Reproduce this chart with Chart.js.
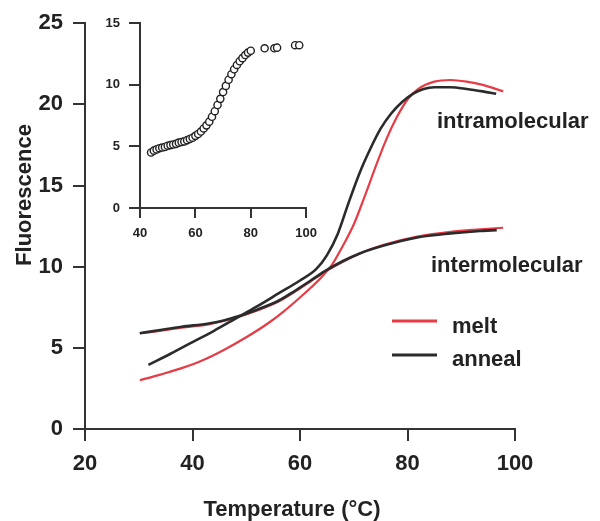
<!DOCTYPE html>
<html>
<head>
<meta charset="utf-8">
<script src="https://cdn.jsdelivr.net/npm/chart.js@4.4.0/dist/chart.umd.min.js"></script>
<style>
  body { margin: 0; background: #fff; }
  #wrap { position: relative; width: 600px; height: 521px; }
  #main { position: absolute; left: 0; top: 0; }
  #inset { position: absolute; left: 90px; top: 0; }
</style>
</head>
<body>
<div id="wrap">
  <canvas id="main" width="600" height="521"></canvas>
  <canvas id="inset" width="235" height="250"></canvas>
</div>
<script>
'use strict';

// main plot: temperature (C) vs fluorescence
var intraMeltT = [30.2, 34, 38, 42, 46, 50, 54, 57, 60, 62, 64, 66, 68, 70, 72, 74, 76, 78, 80, 82, 85, 88, 91, 94, 97.8];
var intraMeltF = [3.0, 3.35, 3.75, 4.25, 4.9, 5.65, 6.5, 7.25, 8.1, 8.7, 9.35, 10.15, 11.3, 12.6, 14.3, 16.1, 17.8, 19.2, 20.3, 20.95, 21.4, 21.5, 21.4, 21.2, 20.8];

var intraAnnealT = [31.8, 36, 40, 44, 48, 52, 56, 60, 63, 65, 67, 69, 71, 73, 75, 77, 79, 81, 83, 85, 88, 91, 94, 96.5];
var intraAnnealF = [3.95, 4.65, 5.35, 6.05, 6.8, 7.55, 8.35, 9.15, 9.85, 10.7, 12.0, 13.9, 15.7, 17.2, 18.5, 19.45, 20.15, 20.65, 20.95, 21.05, 21.05, 20.95, 20.8, 20.65];

var interMeltT = [30.2, 34, 38, 43, 48, 52, 56, 59, 62, 65, 68, 71, 75.6, 81.8, 88, 93.5, 97.8];
var interMeltF = [5.9, 6.05, 6.25, 6.45, 6.85, 7.3, 7.85, 8.45, 9.1, 9.75, 10.3, 10.8, 11.35, 11.85, 12.15, 12.3, 12.4];

var interAnnealT = [30.2, 34, 38, 43, 46, 48.5, 52, 56, 59, 62, 65, 68, 71, 75.6, 81.8, 88, 93.5, 96.6];
var interAnnealF = [5.9, 6.1, 6.3, 6.5, 6.7, 6.95, 7.35, 7.9, 8.5, 9.15, 9.8, 10.35, 10.8, 11.3, 11.8, 12.05, 12.2, 12.25];

var mainXTicks = [20, 40, 60, 80, 100];
var mainYTicks = [0, 5, 10, 15, 20, 25];

// inset: open circles
var insetT = [44, 45, 46, 47, 48, 49, 50, 51, 52, 53, 54, 55, 56, 57, 58, 59, 60, 61, 62, 63, 64, 65, 66, 67, 68, 69, 70, 71, 72, 73, 74, 75, 76, 77, 78, 79, 80, 85, 88.5, 89.5, 96, 97.5];
var insetF = [4.5, 4.65, 4.75, 4.85, 4.9, 4.95, 5.05, 5.1, 5.15, 5.2, 5.3, 5.35, 5.4, 5.5, 5.6, 5.7, 5.85, 6.0, 6.2, 6.45, 6.7, 7.0, 7.4, 7.85, 8.35, 8.85, 9.4, 9.9, 10.4, 10.85, 11.25, 11.6, 11.9, 12.15, 12.4, 12.6, 12.75, 12.95, 12.95, 13.0, 13.2, 13.2];

var insetXTicks = [40, 60, 80, 100];
var insetYTicks = [0, 5, 10, 15];

var FONT = '"Liberation Sans", Arial, sans-serif';
var RED = '#e63c46';
var DARK = '#2b2b2b';
var AXIS = '#333';

function toPoints(xs, ys) {
  var pts = [];
  for (var i = 0; i < xs.length; i++) {
    pts.push({ x: xs[i], y: ys[i] });
  }
  return pts;
}

function lineSet(label, xs, ys, color, width) {
  return {
    label: label,
    data: toPoints(xs, ys),
    borderColor: color,
    borderWidth: width,
    pointRadius: 0,
    fill: false,
    cubicInterpolationMode: 'monotone'
  };
}

function fixedTicks(values) {
  return function(scale) {
    scale.ticks = values.map(function(v) { return { value: v }; });
  };
}

function axis(min, max, ticks, size, tickLen, pad, fit) {
  return {
    type: 'linear',
    min: min,
    max: max,
    afterBuildTicks: fixedTicks(ticks),
    afterFit: fit,
    ticks: { color: '#222', padding: pad, font: { family: FONT, size: size, weight: 'bold' } },
    grid: { drawOnChartArea: false, drawTicks: true, tickLength: tickLen, color: AXIS, lineWidth: 2 },
    border: { display: true, color: AXIS, width: 2 }
  };
}

// texts that sit on the main plot
var notes = {
  id: 'notes',
  afterDraw: function(chart) {
    var ctx = chart.ctx;
    ctx.save();
    ctx.fillStyle = '#222';
    ctx.font = 'bold 22px ' + FONT;
    ctx.textAlign = 'left';
    ctx.textBaseline = 'alphabetic';
    ctx.fillText('intramolecular', 437, 128);
    ctx.fillText('intermolecular', 431, 272);
    ctx.fillText('melt', 452, 333);
    ctx.fillText('anneal', 452, 366);

    ctx.lineWidth = 3;
    ctx.strokeStyle = RED;
    ctx.beginPath();
    ctx.moveTo(392, 321);
    ctx.lineTo(437, 321);
    ctx.stroke();
    ctx.strokeStyle = DARK;
    ctx.beginPath();
    ctx.moveTo(392, 355);
    ctx.lineTo(437, 355);
    ctx.stroke();

    ctx.textAlign = 'center';
    ctx.fillText('Temperature (\u00B0C)', 292, 516);
    ctx.translate(25, 195);
    ctx.rotate(-Math.PI / 2);
    ctx.textBaseline = 'middle';
    ctx.fillText('Fluorescence', 0, 0);
    ctx.restore();
  }
};

new Chart(document.getElementById('main').getContext('2d'), {
  type: 'line',
  data: {
    datasets: [
      lineSet('anneal intramolecular', intraAnnealT, intraAnnealF, DARK, 2.6),
      lineSet('anneal intermolecular', interAnnealT, interAnnealF, DARK, 2.6),
      lineSet('melt intramolecular', intraMeltT, intraMeltF, RED, 2.2),
      lineSet('melt intermolecular', interMeltT, interMeltF, RED, 2.2)
    ]
  },
  options: {
    responsive: false,
    devicePixelRatio: 1,
    animation: false,
    layout: { padding: { top: 23, right: 85, left: 0, bottom: 0 } },
    scales: {
      x: axis(20, 100, mainXTicks, 22, 12, 10, function(s) { s.height = 92; }),
      y: axis(0, 25, mainYTicks, 22, 12, 10, function(s) { s.width = 85; })
    },
    plugins: { legend: { display: false }, tooltip: { enabled: false } }
  },
  plugins: [notes]
});

new Chart(document.getElementById('inset').getContext('2d'), {
  type: 'scatter',
  data: {
    datasets: [{
      label: 'inset',
      data: toPoints(insetT, insetF),
      pointRadius: 3.6,
      pointBackgroundColor: '#fff',
      pointBorderColor: '#222',
      pointBorderWidth: 1.4,
      showLine: false
    }]
  },
  options: {
    responsive: false,
    devicePixelRatio: 1,
    animation: false,
    layout: { padding: { top: 23, right: 18, left: 0, bottom: 0 } },
    scales: {
      x: axis(40, 100, insetXTicks, 13, 10, 8, function(s) { s.height = 42; }),
      y: axis(0, 15, insetYTicks, 13, 11, 9, function(s) { s.width = 50; })
    },
    plugins: { legend: { display: false }, tooltip: { enabled: false } }
  }
});
</script>
</body>
</html>
